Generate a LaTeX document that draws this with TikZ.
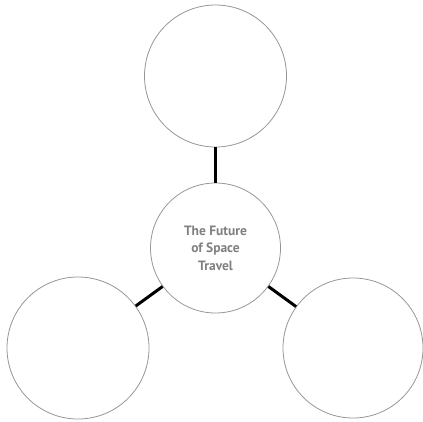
\documentclass[tikz,border=0pt]{standalone}
\usepackage{fontspec}
\setmainfont{PT Sans}
\usetikzlibrary{positioning}
\definecolor{bubblegray}{RGB}{150,150,150}
\definecolor{textgray}{RGB}{128,128,128}
\tikzset{
    bubble/.style={
        circle,draw=bubblegray,line width=0.8pt,fill=white,
        minimum size=#1,inner sep=0pt,align=center,
        font=\fontsize{13.5}{17.5}\selectfont\bfseries,text=textgray
    },
    bubble/.default=142pt,
    link/.style={line width=3pt,draw=black}
}
\begin{document}
\begin{tikzpicture}[x=1pt,y=-1pt]
\useasboundingbox (0,0) rectangle (423,421);

\node[bubble] (top) at (215.5,76) {};
\node[bubble=130pt] (hub) at (215.5,248) {The Future\\of Space\\Travel};
\node[bubble] (left) at (78,348) {};
\node[bubble=140pt] (right) at (353,348) {};

\draw[link] (hub) -- (top);
\draw[link] (hub) -- (left);
\draw[link] (hub) -- (right);

\end{tikzpicture}
\end{document}
